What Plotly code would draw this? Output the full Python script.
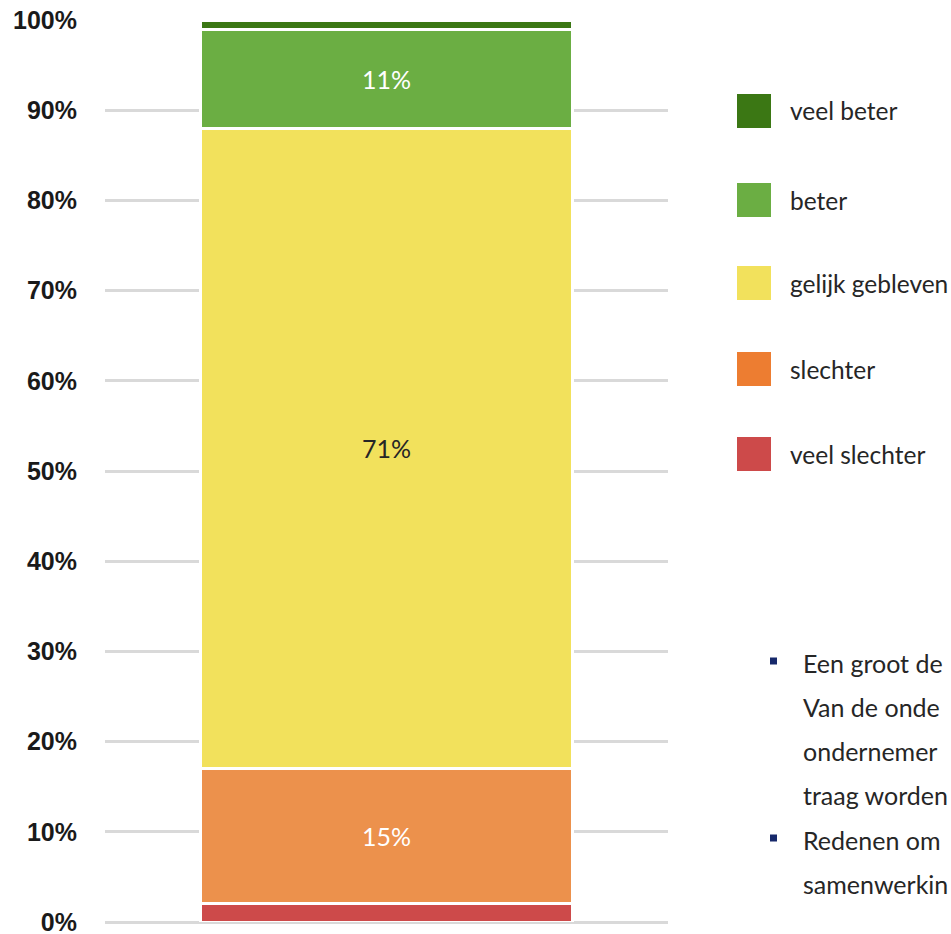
import plotly.graph_objects as go

categories = ["veel slechter", "slechter", "gelijk gebleven", "beter", "veel beter"]
values = [2, 15, 71, 11, 1]
bar_colors = ["#CD4A4A", "#EC914C", "#F2E15C", "#6BAE43", "#3B7714"]
legend_colors = ["#CD4A4A", "#ED7D31", "#F2E15C", "#6BAE43", "#3B7714"]
label_texts = ["", "15%", "71%", "11%", ""]
label_colors = ["white", "white", "#262626", "white", "white"]
tick_vals = [0, 10, 20, 30, 40, 50, 60, 70, 80, 90, 100]
tick_text = ["0%", "10%", "20%", "30%", "40%", "50%", "60%", "70%", "80%", "90%", "100%"]
note_lines = ["Een groot de", "Van de onde", "ondernemer", "traag worden", "Redenen om", "samenwerkin"]

W, H = 951, 934
L, R, T, B = 105, 668, 20, 922


def px(x):
    return (x - L) / (R - L)


def py(y):
    return (B - y) / (B - T)


fig = go.Figure()
for cat, v, c, t, tc in zip(categories, values, bar_colors, label_texts, label_colors):
    fig.add_trace(go.Bar(
        x=[""], y=[v], name=cat,
        marker=dict(color=c, line=dict(color="white", width=3)),
        text=[t], textposition="inside", insidetextanchor="middle",
        textfont=dict(color=tc, size=25, family="Lato"),
        showlegend=False, hoverinfo="skip",
    ))

shapes = []
annotations = []
legend_y = [111, 200, 283, 369, 454]
for cat, c, yc in zip(reversed(categories), reversed(legend_colors), legend_y):
    shapes.append(dict(type="rect", xref="paper", yref="paper",
                       x0=px(737), x1=px(771), y0=py(yc + 17), y1=py(yc - 17),
                       fillcolor=c, line=dict(width=0)))
    annotations.append(dict(xref="paper", yref="paper", x=px(788), y=py(yc),
                            text=cat, showarrow=False, xanchor="left", yanchor="middle",
                            font=dict(family="Lato", size=24.5, color="#262626")))

note_y = [663, 707, 751, 795, 840, 884]
for line, yc in zip(note_lines, note_y):
    annotations.append(dict(xref="paper", yref="paper", x=px(801), y=py(yc),
                            text=line, showarrow=False, xanchor="left", yanchor="middle",
                            font=dict(family="Lato", size=25, color="#262626")))
for yc in [note_y[0] - 2, note_y[4] - 2]:
    shapes.append(dict(type="rect", xref="paper", yref="paper",
                       x0=px(770), x1=px(777), y0=py(yc + 3.5), y1=py(yc - 3.5),
                       fillcolor="#17296B", line=dict(width=0)))

fig.update_layout(
    width=W, height=H,
    margin=dict(l=L, r=W - R, t=T, b=H - B, pad=0, autoexpand=False),
    barmode="stack", bargap=0.34,
    plot_bgcolor="white", paper_bgcolor="white",
    shapes=shapes, annotations=annotations,
    uniformtext=dict(mode="show", minsize=10),
    xaxis=dict(showticklabels=False, showgrid=False, zeroline=False, showline=False,
               fixedrange=True, automargin=False),
    yaxis=dict(range=[0, 100], tickvals=tick_vals, ticktext=tick_text,
               showgrid=True, gridcolor="#D9D9D9", gridwidth=2.5,
               zeroline=True, zerolinecolor="#D9D9D9", zerolinewidth=2.5,
               showline=False, ticks="", ticklabelstandoff=27, ticklabeloverflow="allow",
               automargin=False,
               tickfont=dict(family="Liberation Sans", size=25, color="#1A1A1A", weight="bold")),
)

fig.write_html("out.html", config={"displayModeBar": False},
               post_script="document.body.style.margin='0';document.body.style.overflow='hidden';")
